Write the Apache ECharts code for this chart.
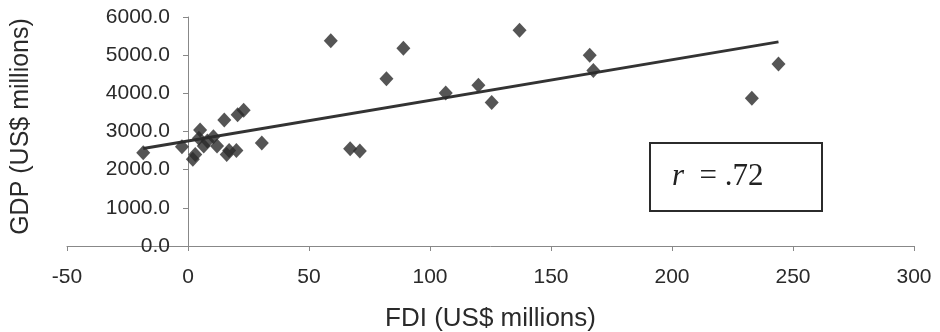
<!DOCTYPE html>
<html>
<head>
<meta charset="utf-8">
<script src="https://cdn.jsdelivr.net/npm/echarts@6/dist/echarts.min.js"></script>
<style>
html,body{margin:0;padding:0;background:#fff;}
#chart{width:940px;height:332px;}
</style>
</head>
<body>
<div id="chart"></div>
<script>
// FDI (US$ millions) for each observation
const fdi = [-18.5, -2.5, 2.0, 3.0, 4.5, 5.0, 6.5, 8.0, 10.5, 12.0, 15.0, 16.0, 17.0, 20.0, 20.5, 23.0, 30.5, 59, 67, 71, 82, 89, 106.5, 120, 125.5, 137, 166, 167.5, 233, 244];
// GDP (US$ millions) for each observation
const gdp = [2440, 2600, 2270, 2400, 2820, 3040, 2620, 2750, 2860, 2620, 3300, 2400, 2500, 2500, 3440, 3560, 2700, 5380, 2550, 2490, 4380, 5180, 4010, 4210, 3760, 5650, 5000, 4600, 3870, 4770];
// Trend line
const trendX = [-18.5, 244];
const trendY = [2557, 5348];
const xTicks = [-50, 0, 50, 100, 150, 200, 250, 300];
const yTicks = [0, 1000, 2000, 3000, 4000, 5000, 6000];
const rLabel = '.72';

const gridLeft = 67, gridRight = 26;
const plotW = 940 - gridLeft - gridRight;
const xMin = xTicks[0], xMax = xTicks[xTicks.length - 1];
// y axis crosses the x axis at FDI = 0
const yAxisOffset = -plotW * (0 - xMin) / (xMax - xMin);

const chart = echarts.init(document.getElementById('chart'));
const font = 'Liberation Sans, Arial, sans-serif';
chart.setOption({
  backgroundColor: '#ffffff',
  animation: false,
  grid: {left: gridLeft, right: gridRight, top: 17, bottom: 86, containLabel: false, outerBoundsMode: 'none'},
  xAxis: {
    type: 'value',
    min: xMin, max: xMax, interval: 50,
    name: 'FDI (US$ millions)',
    nameLocation: 'middle', nameGap: 60,
    nameTextStyle: {fontFamily: font, fontSize: 26, color: '#2a2a2a'},
    axisLine: {onZero: true, lineStyle: {color: '#888', width: 1}},
    axisTick: {show: true, length: 5, lineStyle: {color: '#888'}},
    axisLabel: {fontFamily: font, fontSize: 21, color: '#2a2a2a', margin: 21},
    splitLine: {show: false}
  },
  yAxis: {
    type: 'value',
    position: 'left',
    offset: yAxisOffset,
    min: yTicks[0], max: yTicks[yTicks.length - 1], interval: 1000,
    name: 'GDP (US$ millions)',
    nameLocation: 'middle', nameGap: 154, nameRotate: 90,
    nameTextStyle: {fontFamily: font, fontSize: 25, color: '#2a2a2a', padding: [0, 0, 0, 10]},
    axisLine: {show: true, onZero: false, lineStyle: {color: '#888', width: 1}},
    axisTick: {show: true, length: 5, lineStyle: {color: '#888'}},
    axisLabel: {fontFamily: font, fontSize: 21, color: '#2a2a2a', margin: 18,
      formatter: v => v.toFixed(1)},
    splitLine: {show: false}
  },
  series: [
    {
      type: 'scatter',
      data: fdi.map((x, i) => [x, gdp[i]]),
      symbol: 'diamond',
      symbolSize: [14, 15],
      itemStyle: {color: '#2b2b2b'},
      z: 3
    },
    {
      type: 'line',
      data: trendX.map((x, i) => [x, trendY[i]]),
      showSymbol: false,
      symbol: 'none',
      lineStyle: {color: '#333', width: 3},
      z: 2
    }
  ],
  graphic: [
    {
      type: 'rect',
      left: 649, top: 142,
      shape: {width: 172, height: 68},
      style: {fill: '#fff', stroke: '#2b2b2b', lineWidth: 2}
    },
    {
      type: 'text',
      left: 672, top: 161,
      style: {
        text: '{i|r}  = ' + rLabel,
        rich: {i: {fontFamily: 'Liberation Serif, Times New Roman, serif', fontStyle: 'italic', fontSize: 31, fill: '#222'}},
        fontFamily: 'Liberation Serif, Times New Roman, serif',
        fontSize: 31, fill: '#222'
      }
    }
  ]
});
</script>
</body>
</html>
